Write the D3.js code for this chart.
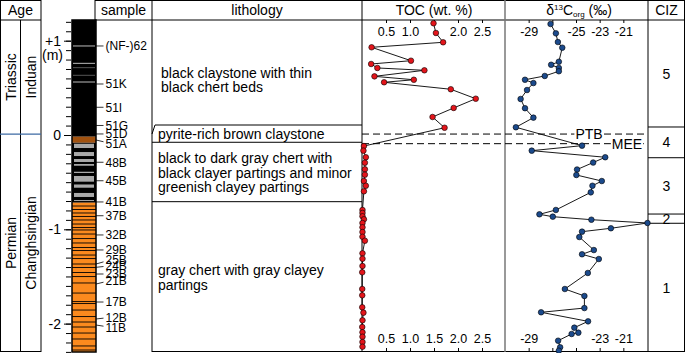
<!DOCTYPE html>
<html>
<head>
<meta charset="utf-8">
<script src="https://cdn.jsdelivr.net/npm/d3@7"></script>
<style>
body { margin: 0; background: #fff; }
text { font-family: "Liberation Sans", Arial, Helvetica, sans-serif; fill: #000; }
</style>
</head>
<body>
<div id="chart"></div>
<script>
// ---- data (depth in m relative to PTB datum) ----
var tocDepth = [1.185, 1.082, 0.983, 0.930, 0.788, 0.753, 0.711, 0.686, 0.622, 0.586, 0.559, 0.485,
  0.385, 0.287, 0.191, 0.077, -0.117, -0.166, -0.236, -0.294, -0.364, -0.421, -0.488, -0.538,
  -0.597, -0.795, -0.827, -0.862, -0.894, -0.933, -0.979, -1.029, -1.079, -1.121, -1.255, -1.312,
  -1.389, -1.456, -1.633, -1.700, -1.827, -1.884, -1.965, -2.036, -2.092, -2.139, -2.195, -2.245];
var tocValue = [1.49, 1.54, 1.69, 0.20, 1.02, 0.19, 0.32, 1.30, 0.26, 1.08, 0.46, 1.85,
  2.37, 1.91, 1.47, 1.72, 0.04, 0.03, 0.08, 0.06, 0.06, 0.06, 0.04, 0.08,
  0.04, 0.01, 0.01, 0.01, 0.04, 0.01, 0.01, 0.01, 0.01, 0.06, 0.01, 0.01,
  0.01, 0.005, 0.005, 0.005, 0.005, 0.03, 0.01, 0.005, 0.01, 0.01, 0.01, 0.01];

var d13cDepth = [1.177, 1.078, 0.986, 0.926, 0.777, 0.745, 0.711, 0.676, 0.626, 0.586, 0.551, 0.477,
  0.382, 0.284, 0.184, 0.082, -0.113, -0.166, -0.236, -0.292, -0.366, -0.424, -0.488, -0.538,
  -0.608, -0.795, -0.841, -0.866, -0.898, -0.933, -0.989, -1.025, -1.082, -1.220, -1.265, -1.315,
  -1.463, -1.633, -1.707, -1.835, -1.880, -1.976, -2.043, -2.096, -2.110, -2.181, -2.251, -2.287];
var d13cValue = [-27.15, -26.70, -26.53, -26.16, -26.45, -27.10, -26.45, -26.45, -27.64, -29.31, -28.60, -29.14,
  -29.68, -29.31, -28.60, -30.08, -24.49, -28.74, -22.53, -23.55, -24.91, -24.97, -22.82, -23.61,
  -23.75, -26.70, -28.09, -26.96, -23.70, -18.96, -22.05, -24.49, -24.72, -23.49, -24.49, -23.07,
  -24.00, -25.94, -24.29, -24.29, -27.95, -23.98, -25.14, -24.80, -25.37, -26.51, -26.34, -26.45];

var sampleNames = ["(NF-)62", "51K", "51I", "51G", "51D", "51A", "48B", "45B", "41B", "37B",
  "32B", "29B", "25B", "24B", "23B", "21B", "17B", "12B", "11B"];
var sampleDepth = [0.944, 0.541, 0.294, 0.101, 0.011, -0.053, -0.289, -0.485, -0.710, -0.856,
  -1.060, -1.219, -1.368, -1.403, -1.474, -1.580, -1.771, -1.951, -2.015];

// lithology units: name, top, base
var unitNames = ["claystone", "pyrite", "chert", "graychert"];
var unitTop = [1.22, -0.018, -0.082, -0.718];
var unitBase = [-0.018, -0.082, -0.718, -2.301];
// gray chert beds inside the black chert unit [top, base]
var grayBeds = [[-0.082, -0.138], [-0.170, -0.223], [-0.244, -0.286], [-0.297, -0.326],
  [-0.379, -0.403], [-0.424, -0.495], [-0.514, -0.559], [-0.604, -0.657], [-0.679, -0.700]];
// thin clayey partings in the gray chert unit
var partings = [-0.753, -0.790, -0.827, -0.864, -0.901, -0.944, -0.981, -1.007, -1.050, -1.098,
  -1.145, -1.193, -1.225, -1.273, -1.310, -1.368, -1.405, -1.458, -1.501, -1.569, -1.676,
  -1.766, -1.787, -1.856, -1.925, -1.983, -2.036, -2.100, -2.163, -2.237, -2.280];
// chert beds in the black claystone
var chertBeds = [0.944, 0.760, 0.714, 0.633, 0.562];
var chertShade = ["light", "light", "dark", "dark", "light"];

// lithology description boxes
var boxEdges = [0.106, -0.077, -0.707];

var czNames = ["5", "4", "3", "2", "1"];
var czEdges = [1.22, 0.085, -0.241, -0.838, -0.936, -2.301];

var ptbDepth = 0.01, meeDepth = -0.092;
var tocTop = [0.5, 1.0, 2.0, 2.5], tocBottom = [0.5, 1.0, 1.5, 2.0, 2.5];
var cTop = [-29, -25, -23, -21], cBottom = [-29, -23, -21];

// ---- layout ----
var W = 685, H = 353, yTop = 20, yBot = 352;
var svg = d3.select("#chart").append("svg").attr("width", W).attr("height", H);

var y = d3.scaleLinear().domain([1.2195, -2.301]).range([yTop, yBot]);
var xToc = d3.scaleLinear().domain([0, 3]).range([362, 506]);
var xC = d3.scaleLinear().domain([-31, -19]).range([505, 647]);

var unitColor = { claystone: "#000", pyrite: "#a2520f", chert: "#000", graychert: "#fb8a1e" };

// lithology column
var col = svg.append("g");
col.selectAll("rect.unit").data(unitNames).enter().append("rect")
  .attr("x", 72).attr("width", 24)
  .attr("y", function(d, i) { return y(unitTop[i]); })
  .attr("height", function(d, i) { return y(unitBase[i]) - y(unitTop[i]); })
  .attr("fill", function(d) { return unitColor[d]; });
col.selectAll("rect.bed").data(grayBeds).enter().append("rect")
  .attr("x", 74).attr("width", 20)
  .attr("y", function(d) { return y(d[0]) + 1; })
  .attr("height", function(d) { return Math.max(1, y(d[1]) - y(d[0]) - 1); })
  .attr("fill", "#a9a9a9");
col.selectAll("line.part").data(partings).enter().append("line")
  .attr("x1", 72).attr("x2", 96)
  .attr("y1", function(d) { return y(d); }).attr("y2", function(d) { return y(d); })
  .attr("stroke", "#000").attr("stroke-width", 0.9);
col.selectAll("line.cb").data(chertBeds).enter().append("line")
  .attr("x1", 73).attr("x2", 95)
  .attr("y1", function(d) { return y(d); }).attr("y2", function(d) { return y(d); })
  .attr("stroke", function(d, i) { return chertShade[i] == "light" ? "#bbb" : "#555"; })
  .attr("stroke-width", 1);
col.append("rect").attr("x", 72).attr("y", yTop).attr("width", 24).attr("height", yBot - yTop)
  .attr("fill", "none").attr("stroke", "#000").attr("stroke-width", 1.5);

// depth axis
svg.append("g").attr("transform", "translate(71,0)")
  .call(d3.axisLeft(y).tickValues(d3.range(-23, 13).map(function(i) { return i / 10; }))
    .tickSize(5).tickFormat(""))
  .call(function(g) { g.select(".domain").remove(); });
var depthAxis = svg.append("g").attr("transform", "translate(71,0)")
  .call(d3.axisLeft(y).tickValues([-2, -1, 0, 1]).tickSize(7).tickPadding(3)
    .tickFormat(function(d) { return d > 0 ? "+" + d : String(d); }));
depthAxis.select(".domain").remove();
depthAxis.selectAll("text").attr("font-size", 14).attr("font-family", null);
svg.append("text").attr("x", 63).attr("y", y(1) + 19).attr("text-anchor", "end")
  .attr("font-size", 14).text("(m)");

// sample labels (crowded ones nudged like in the figure)
var nudge = { "51A": 3.5, "25B": -4.3, "24B": -1.6, "21B": -3.6, "12B": -1.7, "11B": 2.3 };
var samples = svg.append("g");
samples.selectAll("line").data(sampleNames).enter().append("line")
  .attr("x1", 96).attr("x2", 103.5)
  .attr("y1", function(d, i) { return y(sampleDepth[i]); })
  .attr("y2", function(d, i) { return y(sampleDepth[i]) + (nudge[d] || 0) * 0.5; })
  .attr("stroke", "#000").attr("stroke-width", 0.8);
samples.selectAll("text").data(sampleNames).enter().append("text")
  .attr("x", 105.5)
  .attr("y", function(d, i) { return y(sampleDepth[i]) + (nudge[d] || 0); })
  .attr("dy", "0.36em").attr("font-size", 12).text(function(d) { return d; });

// frame
var frame = svg.append("g").attr("stroke", "#000").attr("stroke-width", 1).attr("fill", "none");
var hl = [[0, 41, 0.5], [95, 685, 0.5], [0, 41, yTop], [95, 685, yTop], [0, 41, yBot - 0.5], [152, 685, yBot - 0.5]];
hl.forEach(function(l) { frame.append("line").attr("x1", l[0]).attr("x2", l[1]).attr("y1", l[2]).attr("y2", l[2]); });
var vl = [[0.5, 0, yBot], [20.5, yTop, yBot], [41, 0, yBot], [95, 0, yTop], [152, 0, yBot],
  [362, 0, yBot], [648, 0, yBot], [684.5, 0, yBot]];
vl.forEach(function(l) { frame.append("line").attr("x1", l[0]).attr("x2", l[0]).attr("y1", l[1]).attr("y2", l[2]); });
frame.append("line").attr("x1", 505).attr("x2", 505).attr("y1", 0).attr("y2", yBot)
  .attr("stroke", "#777").attr("stroke-width", 1.5);

// age column
svg.append("line").attr("x1", 0).attr("x2", 41).attr("y1", y(ptbDepth)).attr("y2", y(ptbDepth))
  .attr("stroke", "#3d6aa3").attr("stroke-width", 1.2);
function vtext(x, yy, s) {
  svg.append("text").attr("transform", "translate(" + x + "," + yy + ") rotate(-90)")
    .attr("text-anchor", "middle").attr("dy", "0.36em").attr("font-size", 14).text(s);
}
vtext(10.5, (y(1.2195) + y(ptbDepth)) / 2, "Triassic");
vtext(31, (y(1.2195) + y(ptbDepth)) / 2, "Induan");
vtext(10.5, (y(ptbDepth) + y(-2.301)) / 2, "Permian");
vtext(31, (y(ptbDepth) + y(-2.301)) / 2, "Changhsingian");

// headers
var hdr = svg.append("g").attr("font-size", 14).attr("text-anchor", "middle");
hdr.append("text").attr("x", 20.5).attr("y", 10).attr("dy", "0.36em").text("Age");
hdr.append("text").attr("x", 123.5).attr("y", 10).attr("dy", "0.36em").text("sample");
hdr.append("text").attr("x", 257).attr("y", 10).attr("dy", "0.36em").text("lithology");
hdr.append("text").attr("x", 434).attr("y", 10).attr("dy", "0.36em").text("TOC (wt. %)");
var dh = hdr.append("text").attr("x", 579).attr("y", 15);
dh.append("tspan").text("δ");
dh.append("tspan").attr("font-size", 8).attr("dy", -5).text("13");
dh.append("tspan").attr("dy", 5).text("C");
dh.append("tspan").attr("font-size", 8).attr("dy", 2).text("org");
dh.append("tspan").attr("dy", -2).text(" (‰)");
hdr.append("text").attr("x", 666.5).attr("y", 10).attr("dy", "0.36em").text("CIZ");

// lithology descriptions
var boxes = svg.append("g").attr("stroke", "#000").attr("stroke-width", 1);
boxes.append("line").attr("x1", 155).attr("x2", 362).attr("y1", y(boxEdges[0])).attr("y2", y(boxEdges[0]));
boxes.append("line").attr("x1", 152).attr("x2", 155).attr("y1", y(boxEdges[0]) + 9).attr("y2", y(boxEdges[0]));
boxes.append("line").attr("x1", 152).attr("x2", 362).attr("y1", y(boxEdges[1])).attr("y2", y(boxEdges[1]));
boxes.append("line").attr("x1", 152).attr("x2", 362).attr("y1", y(boxEdges[2])).attr("y2", y(boxEdges[2]));
var desc = [
  [161, 72.5, "black claystone with thin"], [161, 87, "black chert beds"],
  [158, 134, "pyrite-rich brown claystone"],
  [158, 158, "black to dark gray chert with"], [158, 172.7, "black clayer partings and minor"],
  [158, 187.4, "greenish clayey partings"],
  [158, 270, "gray chert with gray clayey"], [158, 285, "partings"]];
svg.append("g").attr("font-size", 14).selectAll("text").data(desc).enter().append("text")
  .attr("x", function(d) { return d[0]; }).attr("y", function(d) { return d[1]; })
  .attr("dy", "0.36em").text(function(d) { return d[2]; });

// CIZ zones
var cz = svg.append("g");
cz.selectAll("line").data(czEdges.slice(1, -1)).enter().append("line")
  .attr("x1", 648).attr("x2", 685)
  .attr("y1", function(d) { return y(d); }).attr("y2", function(d) { return y(d); })
  .attr("stroke", "#000");
cz.selectAll("text").data(czNames).enter().append("text")
  .attr("x", 666.5).attr("text-anchor", "middle").attr("font-size", 14).attr("dy", "0.36em")
  .attr("y", function(d, i) { return (y(czEdges[i]) + y(czEdges[i + 1])) / 2; })
  .text(function(d) { return d; });

// axes
function styleAxis(g) {
  g.select(".domain").remove();
  g.selectAll("text").attr("font-size", 12.5).attr("font-family", null);
  g.selectAll("line").attr("stroke", "#000");
}
svg.append("g").attr("transform", "translate(0," + yTop + ")")
  .call(d3.axisBottom(xToc).tickValues([0.5, 1, 1.5, 2, 2.5]).tickSize(3).tickPadding(4)
    .tickFormat(function(d) { return tocTop.indexOf(d) >= 0 ? d3.format(".1f")(d) : ""; }))
  .call(styleAxis);
svg.append("g").attr("transform", "translate(0," + yBot + ")")
  .call(d3.axisTop(xToc).tickValues(tocBottom).tickSize(4).tickPadding(5)
    .tickFormat(d3.format(".1f")))
  .call(styleAxis);
svg.append("g").attr("transform", "translate(0," + yTop + ")")
  .call(d3.axisBottom(xC).tickValues([-29, -27, -25, -23, -21]).tickSize(3).tickPadding(4)
    .tickFormat(function(d) { return cTop.indexOf(d) >= 0 ? String(d) : ""; }))
  .call(styleAxis);
svg.append("g").attr("transform", "translate(0," + yBot + ")")
  .call(d3.axisTop(xC).tickValues([-29, -27, -25, -23, -21]).tickSize(4).tickPadding(5)
    .tickFormat(function(d) { return cBottom.indexOf(d) >= 0 ? String(d) : ""; }))
  .call(styleAxis);

// PTB / MEE
[[ptbDepth, "PTB", 589], [meeDepth, "MEE", 627]].forEach(function(m) {
  svg.append("line").attr("x1", 362).attr("x2", 648).attr("y1", y(m[0])).attr("y2", y(m[0]))
    .attr("stroke", "#000").attr("stroke-dasharray", "7,4");
  var t = svg.append("text").attr("x", m[2]).attr("y", y(m[0])).attr("dy", "0.36em")
    .attr("text-anchor", "middle").attr("font-size", 14).text(m[1]);
  var b = t.node().getBBox();
  svg.insert("rect", function() { return t.node(); })
    .attr("x", b.x - 1).attr("y", y(m[0]) - 3).attr("width", b.width + 2).attr("height", 6)
    .attr("fill", "#fff");
});

// TOC curve
var toc = tocDepth.map(function(d, i) { return [tocValue[i], d]; });
var c13 = d13cDepth.map(function(d, i) { return [d13cValue[i], d]; });
svg.append("path").datum(toc)
  .attr("d", d3.line().x(function(d) { return xToc(d[0]); }).y(function(d) { return y(d[1]); }))
  .attr("fill", "none").attr("stroke", "#000").attr("stroke-width", 0.9);
svg.append("g").selectAll("circle").data(toc).enter().append("circle")
  .attr("cx", function(d) { return xToc(d[0]); }).attr("cy", function(d) { return y(d[1]); })
  .attr("r", 2.8).attr("fill", "#e3151b").attr("stroke", "#000").attr("stroke-width", 0.6);

// d13C curve
svg.append("path").datum(c13)
  .attr("d", d3.line().x(function(d) { return xC(d[0]); }).y(function(d) { return y(d[1]); }))
  .attr("fill", "none").attr("stroke", "#000").attr("stroke-width", 0.9);
svg.append("g").selectAll("circle").data(c13).enter().append("circle")
  .attr("cx", function(d) { return xC(d[0]); }).attr("cy", function(d) { return y(d[1]); })
  .attr("r", 2.8).attr("fill", "#1b4a8c").attr("stroke", "#000").attr("stroke-width", 0.6);
</script>
</body>
</html>
